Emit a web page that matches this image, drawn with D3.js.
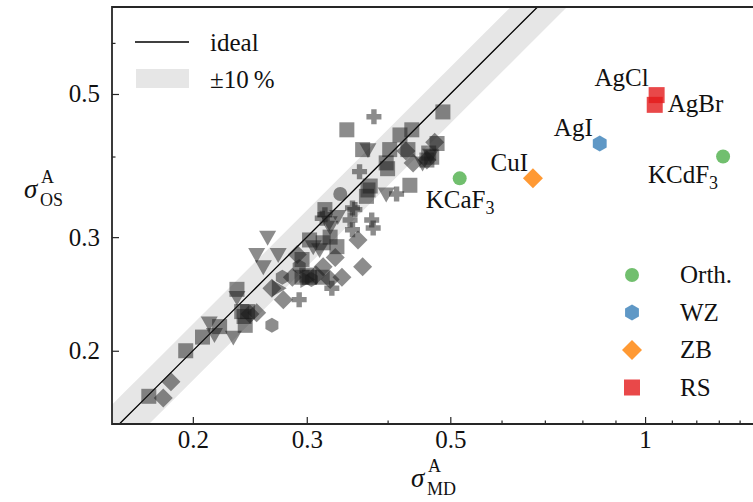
<!DOCTYPE html>
<html>
<head>
<meta charset="utf-8">
<script src="https://cdn.jsdelivr.net/npm/d3@7"></script>
<style>
  html, body { margin: 0; padding: 0; background: #fff; }
  svg { display: block; }
  text { font-family: "Liberation Serif", "Times New Roman", serif; fill: #111; }
</style>
</head>
<body>
<svg id="chart" width="753" height="502"></svg>
<script>
// ---- data: sigma^A from MD (x) vs. sigma^A from the OS model (y) ----
// reference set, grouped by marker shape: [sigma_MD, sigma_OS]
const refSquares = [
  [0.171,0.170],[0.195,0.200],[0.207,0.210],[0.220,0.218],[0.234,0.249],[0.238,0.230],
  [0.243,0.230],[0.241,0.219],[0.240,0.226],[0.295,0.277],[0.295,0.260],[0.303,0.260],
  [0.300,0.262],[0.317,0.260],[0.303,0.297],[0.318,0.294],[0.326,0.300],[0.334,0.290],
  [0.320,0.331],[0.373,0.355],[0.371,0.347],[0.433,0.361],[0.346,0.440],[0.487,0.469],
  [0.436,0.440],[0.418,0.432],[0.366,0.410],[0.403,0.410],[0.430,0.410],[0.477,0.419],
  [0.468,0.399],[0.460,0.395],[0.463,0.405],[0.400,0.383],[0.398,0.391],[0.376,0.360]
];
const refDiamonds = [
  [0.180,0.169],[0.185,0.179],[0.251,0.229],[0.245,0.228],[0.265,0.250],[0.276,0.240],
  [0.290,0.282],[0.285,0.260],[0.318,0.270],[0.340,0.260],[0.326,0.258],[0.366,0.270],
  [0.332,0.279],[0.360,0.297],[0.310,0.262],[0.427,0.408],[0.473,0.421],[0.438,0.391],
  [0.460,0.395]
];
const refTrianglesDown = [
  [0.212,0.221],[0.216,0.212],[0.231,0.210],[0.234,0.242],[0.261,0.300],[0.251,0.282],
  [0.257,0.270],[0.271,0.282],[0.307,0.290],[0.314,0.287],[0.335,0.323],[0.326,0.311],
  [0.398,0.350],[0.373,0.410],[0.453,0.391],[0.325,0.316],[0.466,0.402]
];
const refPluses = [
  [0.292,0.240],[0.328,0.250],[0.317,0.321],[0.356,0.331],[0.350,0.319],[0.353,0.308],
  [0.378,0.319],[0.380,0.310],[0.413,0.350],[0.381,0.461],[0.362,0.379],[0.320,0.325],
  [0.353,0.333]
];
const refHexagons = [[0.265,0.219],[0.275,0.260],[0.292,0.270],[0.305,0.258]];
const refCircles = [[0.338,0.350]];
const refTrianglesRight = [[0.271,0.250],[0.300,0.258]];

// highlighted compounds
const compounds   = ["KCaF3", "CuI", "AgI", "AgCl", "AgBr", "KCdF3"];
const structures  = ["Orth.", "ZB", "WZ", "RS", "RS", "Orth."];
const sigmaMD     = [0.517, 0.671, 0.851, 1.042, 1.035, 1.32];
const sigmaOS     = [0.370, 0.370, 0.419, 0.498, 0.481, 0.400];

const structureNames = ["Orth.", "WZ", "ZB", "RS"];
const xMajorTicks = [0.2, 0.3, 0.5, 1];
const xMinorTicks = [0.4, 0.6, 0.7, 0.8, 0.9, 1.1, 1.2, 1.3, 1.4];
const yMajorTicks = [0.2, 0.3, 0.5];
const yMinorTicks = [0.4, 0.6];
const xTickLabels = ["0.2", "0.3", "0.5", "1"];
const yTickLabels = ["0.2", "0.3", "0.5"];
const tolerance = 0.10;

// ---- layout ----
const svg = d3.select("#chart");
const pLeft = 112, pRight = 759, pTop = 7, pBottom = 424;
const x = d3.scaleLog().domain([0.15, 1.5]).range([pLeft, pRight]);
const y = d3.scaleLog().domain([0.154, 0.682]).range([pBottom, pTop]);

const structColor = {
  "Orth.": "#4daf4a",
  "WZ": "#377eb8",
  "ZB": "#ff7f00",
  "RS": "#e41a1c"
};
const structShape = { "Orth.": "circle", "WZ": "hexagon", "ZB": "diamond", "RS": "square" };

function shapePath(type, r) {
  switch (type) {
    case "square":
      return `M${-r},${-r}h${2*r}v${2*r}h${-2*r}Z`;
    case "diamond":
      return `M0,${-r}L${r},0L0,${r}L${-r},0Z`;
    case "triDown":
      return `M${-r},${-0.75*r}L${r},${-0.75*r}L0,${r}Z`;
    case "triRight":
      return `M${-0.75*r},${-r}L${r},0L${-0.75*r},${r}Z`;
    case "plus": {
      const w = r * 0.36;
      return `M${-w},${-r}H${w}V${-w}H${r}V${w}H${w}V${r}H${-w}V${w}H${-r}V${-w}H${-w}Z`;
    }
    case "hexagon": {
      const pts = d3.range(6).map(k => {
        const a = Math.PI / 2 + k * Math.PI / 3;
        return [r * Math.cos(a), r * Math.sin(a)];
      });
      return "M" + pts.map(p => p.join(",")).join("L") + "Z";
    }
    case "circle":
      return `M${r},0A${r},${r} 0 1,1 ${-r},0A${r},${r} 0 1,1 ${r},0Z`;
  }
}

const defs = svg.append("defs");
defs.append("clipPath").attr("id", "plotClip")
  .append("rect").attr("x", pLeft).attr("y", pTop)
  .attr("width", pRight - pLeft).attr("height", pBottom - pTop);

const plot = svg.append("g").attr("clip-path", "url(#plotClip)");

// ±10 % band and ideal line
const lineX = d3.range(0, 41).map(i => 0.1 * Math.pow(20, i / 40));
const band = d3.area()
  .x(d => x(d))
  .y0(d => y(d * (1 - tolerance)))
  .y1(d => y(d * (1 + tolerance)));
plot.append("path").datum(lineX).attr("d", band).attr("fill", "#e6e6e6");
plot.append("path").datum(lineX)
  .attr("d", d3.line().x(d => x(d)).y(d => y(d)))
  .attr("fill", "none").attr("stroke", "#000").attr("stroke-width", 1.3);

// reference compounds
const grayGroups = [
  [refSquares, "square", 7.5],
  [refDiamonds, "diamond", 9.5],
  [refTrianglesDown, "triDown", 8.5],
  [refPluses, "plus", 7.5],
  [refHexagons, "hexagon", 7.5],
  [refCircles, "circle", 7],
  [refTrianglesRight, "triRight", 8.5]
];
grayGroups.forEach(([pts, type, r]) => {
  plot.append("g").selectAll("path").data(pts).join("path")
    .attr("d", shapePath(type, r))
    .attr("transform", d => `translate(${x(d[0])},${y(d[1])})`)
    .attr("fill", "#1a1a1a").attr("fill-opacity", 0.5);
});

// highlighted compounds
const highlight = compounds.map((c, i) => ({
  name: c, s: structures[i], md: sigmaMD[i], os: sigmaOS[i]
}));
const hlSize = { circle: 7, hexagon: 8, diamond: 10, square: 8 };
plot.append("g").selectAll("path").data(highlight).join("path")
  .attr("d", d => shapePath(structShape[d.s], hlSize[structShape[d.s]]))
  .attr("transform", d => `translate(${x(d.md)},${y(d.os)})`)
  .attr("fill", d => structColor[d.s]).attr("fill-opacity", 0.8);

// compound labels (offsets in px from the marker)
const labelOffset = {
  "KCaF3": [-34, 30, "start"],
  "CuI":   [-5, -7, "end"],
  "AgI":   [-7, -8, "end"],
  "AgCl":  [-8, -9, "end"],
  "AgBr":  [13, 7, "start"],
  "KCdF3": [-5, 26, "end"]
};
const labels = svg.append("g").style("font-size", "25px");
highlight.forEach(d => {
  const [dx, dy, anchor] = labelOffset[d.name];
  const t = labels.append("text")
    .attr("x", x(d.md) + dx).attr("y", y(d.os) + dy)
    .attr("text-anchor", anchor);
  const m = d.name.match(/^(.*?)(\d+)$/);
  if (m) {
    t.append("tspan").text(m[1]);
    t.append("tspan").attr("dy", 6).style("font-size", "18px").text(m[2]);
  } else {
    t.text(d.name);
  }
});

// axes with inward ticks
const axisColor = "#262626";
svg.append("g").attr("transform", `translate(0,${pBottom})`)
  .call(d3.axisBottom(x).tickValues(xMajorTicks)
    .tickFormat((d, i) => xTickLabels[i]).tickSize(-7).tickPadding(6));
svg.append("g").attr("transform", `translate(0,${pBottom})`)
  .call(d3.axisBottom(x).tickValues(xMinorTicks).tickFormat("").tickSize(-3.5));
svg.append("g").attr("transform", `translate(${pLeft},0)`)
  .call(d3.axisLeft(y).tickValues(yMajorTicks)
    .tickFormat((d, i) => yTickLabels[i]).tickSize(-7).tickPadding(12));
svg.append("g").attr("transform", `translate(${pLeft},0)`)
  .call(d3.axisLeft(y).tickValues(yMinorTicks).tickFormat("").tickSize(-3.5));

svg.selectAll(".domain").remove();
svg.selectAll(".tick line").attr("stroke", axisColor).attr("stroke-width", 1.2);
svg.selectAll(".tick text")
  .style("font-family", '"Liberation Serif", "Times New Roman", serif')
  .style("font-size", "25px").attr("fill", "#111");

// frame (left, top, bottom)
svg.append("path")
  .attr("d", `M${pRight},${pTop}H${pLeft}V${pBottom}H${pRight}`)
  .attr("fill", "none").attr("stroke", axisColor).attr("stroke-width", 1.8);

// axis titles
function sigmaTitle(g, xPos, yPos, sub) {
  g.append("text").attr("x", xPos).attr("y", yPos)
    .style("font-size", "27px").style("font-style", "italic").text("σ");
  g.append("text").attr("x", xPos + 17).attr("y", yPos - 15)
    .style("font-size", "18px").text("A");
  g.append("text").attr("x", xPos + 16).attr("y", yPos + 8)
    .style("font-size", "18px").text(sub);
}
sigmaTitle(svg.append("g"), 24, 198, "OS");
sigmaTitle(svg.append("g"), 411, 487, "MD");

// legend: ideal / ±10 %
const lg = svg.append("g").style("font-size", "25px");
lg.append("line").attr("x1", 135).attr("x2", 189).attr("y1", 42).attr("y2", 42)
  .attr("stroke", "#000").attr("stroke-width", 1.3);
lg.append("text").attr("x", 210).attr("y", 51).text("ideal");
lg.append("rect").attr("x", 136).attr("y", 69).attr("width", 53).attr("height", 19)
  .attr("fill", "#e6e6e6");
lg.append("text").attr("x", 210).attr("y", 88).text("±10\u2009%");

// legend: crystal structures
const sl = svg.append("g").style("font-size", "25px");
structureNames.forEach((s, i) => {
  const cy = 275 + i * 37.5;
  sl.append("path")
    .attr("d", shapePath(structShape[s], hlSize[structShape[s]]))
    .attr("transform", `translate(632,${cy})`)
    .attr("fill", structColor[s]).attr("fill-opacity", 0.8);
  sl.append("text").attr("x", 680).attr("y", cy + 8).text(s);
});
</script>
</body>
</html>
